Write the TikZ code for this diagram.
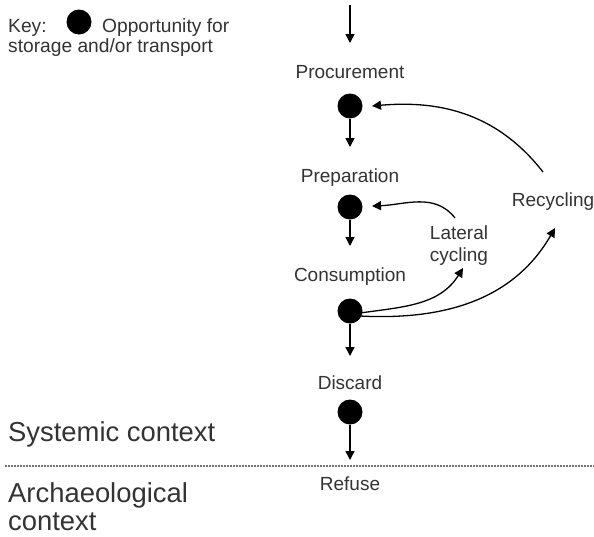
\documentclass[tikz,border=0pt]{standalone}
\usepackage{fontspec}
\setmainfont{Liberation Sans}
\usetikzlibrary{arrows.meta}
\begin{document}
\begin{tikzpicture}[x=1pt,y=1pt,
  dot/.style={circle,fill=black,minimum size=25pt,inner sep=0pt},
  keydot/.style={circle,fill=black,minimum size=25pt,inner sep=0pt},
  lab/.style={text=black!80,font=\fontsize{19}{22}\selectfont,inner sep=0pt,align=center},
  keytext/.style={text=black!80,font=\fontsize{19.2}{22}\selectfont,inner sep=0pt,anchor=base west},
  big/.style={text=black!80,font=\fontsize{27.4}{28}\selectfont,inner sep=0pt,align=left},
  arr/.style={line width=1.4pt,-{Triangle[length=9pt,width=9pt]}},
  flow/.style={line width=1.3pt,-{Triangle[length=9pt,width=9pt]}},
  sep/.style={line width=1.4pt,black!55,dash pattern=on 1.5pt off 1.5pt}]
\useasboundingbox (0,0) rectangle (594,-536);

% key
\node[keytext] (key) at (8,-32) {Key:};
\node[keydot] (kd) at (79,-22) {};
\node[keytext] (opp) at (102,-32) {Opportunity for};
\node[keytext] (sto) at (8,-52) {storage and/or transport};

% main chain
\coordinate (top) at (350,-5);
\coordinate (t0) at (350,-43);
\node[lab] (proc) at (350,-72) {Procurement};
\node[dot] (d1) at (350,-106) {};
\coordinate (t1) at (350,-147);
\node[lab] (prep) at (350,-178) {Preparation};
\node[dot] (d2) at (350,-207) {};
\coordinate (t2) at (350,-246);
\node[lab] (cons) at (350,-277) {Consumption};
\node[dot] (d3) at (350,-311) {};
\coordinate (t3) at (350,-356);
\node[lab] (disc) at (350,-383) {Discard};
\node[dot] (d4) at (350,-412) {};
\coordinate (t4) at (350,-460);
\node[lab] (ref) at (350,-484) {Refuse};

\draw[arr] (top) -- (t0);
\draw[arr] (d1) -- (t1);
\draw[arr] (d2) -- (t2);
\draw[arr] (d3) -- (t3);
\draw[arr] (d4) -- (t4);

% cycling labels
\node[lab] (rec) at (553,-202) {Recycling};
\node[lab] (lat) at (459,-246) {Lateral\\cycling};

\coordinate (recs) at (543,-172);
\coordinate (rece) at (372,-106);
\coordinate (lats) at (455,-218);
\coordinate (late) at (372,-206);
\coordinate (c3a) at (360,-313);
\coordinate (c3b) at (360,-316);
\coordinate (lattip) at (463,-268);
\coordinate (rectip) at (555,-228);

\draw[flow] (recs) to[out=128,in=5] (rece);
\draw[flow] (lats) to[out=128,in=2] (late);
\draw[flow] (c3a) to[out=8,in=238] (lattip);
\draw[flow] (c3b) to[out=-3,in=240] (rectip);

% contexts
\node[big,anchor=base west] (sys) at (8,-441) {Systemic context};
\node[big,anchor=north west] (arch) at (8,-482) {Archaeological\\context};
\coordinate (sepl) at (5,-466);
\coordinate (sepr) at (594,-466);
\draw[sep] (sepl) -- (sepr);
\end{tikzpicture}
\end{document}
